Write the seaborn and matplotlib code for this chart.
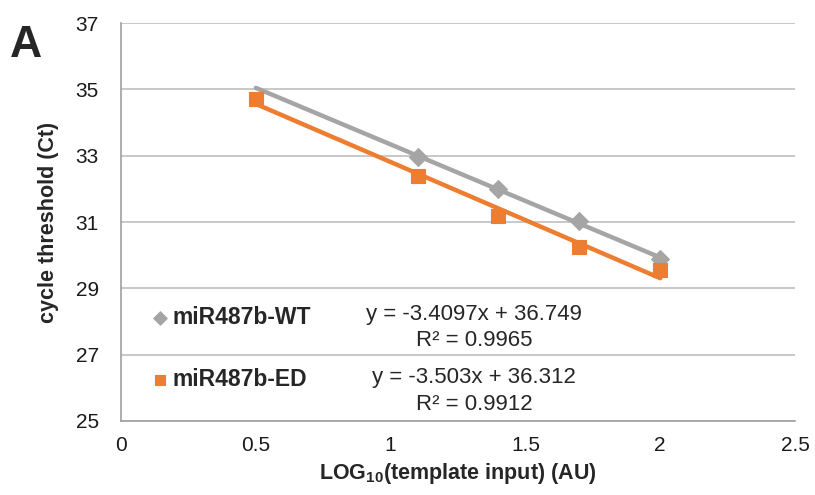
import numpy as np
import pandas as pd
import matplotlib
matplotlib.use("Agg")
import matplotlib.pyplot as plt
import seaborn as sns

# Data
wt_x = [1.1, 1.4, 1.7, 2.0]
wt_y = [32.95, 32.0, 31.04, 29.88]
ed_x = [0.5, 1.1, 1.4, 1.7, 2.0]
ed_y = [34.71, 32.39, 31.19, 30.26, 29.55]

# Excel trendlines (slope, intercept, R²)
wt_fit = (-3.4097, 36.749, 0.9965)
ed_fit = (-3.503, 36.312, 0.9912)
fit_range = [0.5, 2.0]

x_ticks = [0, 0.5, 1, 1.5, 2, 2.5]
x_labels = ["0", "0.5", "1", "1.5", "2", "2.5"]
y_ticks = [25, 27, 29, 31, 33, 35, 37]

GRAY = "#A5A5A5"
ORANGE = "#ED7D31"

sns.set_style("white")
plt.rcParams["font.family"] = ["Liberation Sans", "DejaVu Sans"]
plt.rcParams["mathtext.fontset"] = "custom"
plt.rcParams["mathtext.rm"] = "Liberation Sans:bold"
plt.rcParams["mathtext.default"] = "rm"

fig = plt.figure(figsize=(8.15, 4.95), dpi=100)
ax = fig.add_axes([0.1485, 0.1495, 0.827, 0.804])

# trendlines
fx = np.array(fit_range)
trend = pd.DataFrame({
    "x": np.concatenate([fx, fx]),
    "y": np.concatenate([wt_fit[0] * fx + wt_fit[1], ed_fit[0] * fx + ed_fit[1]]),
    "series": ["WT"] * 2 + ["ED"] * 2,
})
sns.lineplot(data=trend, x="x", y="y", hue="series", palette={"WT": GRAY, "ED": ORANGE},
             linewidth=3.2, legend=False, ax=ax, zorder=2)

# points
sns.scatterplot(x=wt_x, y=wt_y, marker="D", s=85, color=GRAY, edgecolor=GRAY,
                ax=ax, zorder=3, label="miR487b-WT")
sns.scatterplot(x=ed_x, y=ed_y, marker="s", s=100, color=ORANGE, edgecolor=ORANGE,
                ax=ax, zorder=3, label="miR487b-ED")

ax.set_xlim(0, 2.5)
ax.set_ylim(25, 37)
ax.set_xticks(x_ticks)
ax.set_xticklabels(x_labels)
ax.set_yticks(y_ticks)
ax.yaxis.grid(True, color="#BFBFBF", linewidth=1.2)
ax.set_axisbelow(True)
for s in ["top", "right"]:
    ax.spines[s].set_visible(False)
for s in ["left", "bottom"]:
    ax.spines[s].set_color("#A0A0A0")
    ax.spines[s].set_linewidth(1.2)
ax.tick_params(axis="x", direction="inout", length=10, color="#A0A0A0", labelsize=15, pad=6, labelcolor="#1a1a1a")
ax.tick_params(axis="y", direction="out", length=6, color="#A0A0A0", labelsize=15, pad=10, labelcolor="#1a1a1a")

ax.set_xlabel("LOG$_{10}$(template input) (AU)", fontsize=15.5, fontweight="bold", labelpad=4)
ax.set_ylabel("cycle threshold (Ct)", fontsize=15.5, fontweight="bold", labelpad=12)

leg = ax.legend(loc="center left", bbox_to_anchor=(0.018, 0.183), frameon=False,
                prop={"weight": "bold", "size": 16.5}, labelspacing=1.7,
                handlelength=0.5, handletextpad=0.3, markerscale=0.75)

eq_x = 1.31
ax.text(eq_x, 28.2, f"y = {wt_fit[0]}x + {wt_fit[1]}", ha="center", va="center", fontsize=16)
ax.text(eq_x, 27.42, f"R² = {wt_fit[2]}", ha="center", va="center", fontsize=16)
ax.text(eq_x, 26.3, f"y = {ed_fit[0]}x + {ed_fit[1]}", ha="center", va="center", fontsize=16)
ax.text(eq_x, 25.5, f"R² = {ed_fit[2]}", ha="center", va="center", fontsize=16)

fig.text(0.012, 0.885, "A", fontsize=32, fontweight="bold")

fig.savefig("out.png", dpi=100)
